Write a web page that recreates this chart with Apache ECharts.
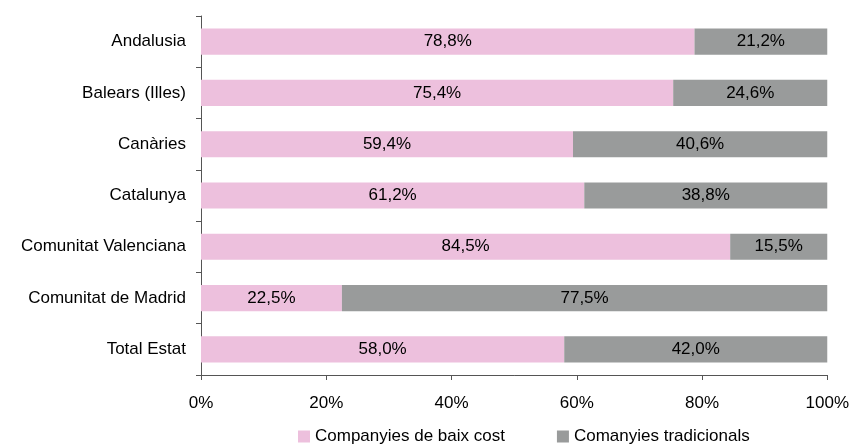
<!DOCTYPE html>
<html>
<head>
<meta charset="utf-8">
<script src="https://cdn.jsdelivr.net/npm/echarts@6/dist/echarts.min.js"></script>
<style>
  html, body { margin: 0; padding: 0; background: #fff; }
  #main { width: 852px; height: 448px; }
</style>
</head>
<body>
<div id="main"></div>
<script>
// dades
var regions = ['Andalusia', 'Balears (Illes)', 'Canàries', 'Catalunya', 'Comunitat Valenciana', 'Comunitat de Madrid', 'Total Estat'];
var baixCost = [78.8, 75.4, 59.4, 61.2, 84.5, 22.5, 58.0];
var tradicionals = [21.2, 24.6, 40.6, 38.8, 15.5, 77.5, 42.0];
var seriesNames = ['Companyies de baix cost', 'Comanyies tradicionals'];

var font = 'Liberation Sans, Arial, sans-serif';

// format amb coma decimal
function pct(v) {
    return v.toFixed(1).replace('.', ',') + '%';
}

var chart = echarts.init(document.getElementById('main'));

var option = {
    animation: false,
    textStyle: {fontFamily: font},
    grid: {left: 201, right: 24, top: 16, bottom: 73, containLabel: false},
    legend: {
        top: 428,
        left: 298,
        padding: 0,
        itemWidth: 12,
        itemHeight: 12,
        itemGap: 52,
        icon: 'rect',
        textStyle: {fontSize: 17, color: '#000', fontFamily: font},
        data: seriesNames
    },
    xAxis: {
        type: 'value',
        min: 0,
        max: 100,
        interval: 20,
        axisLine: {show: true, lineStyle: {color: '#555', width: 1}},
        axisTick: {show: true, length: 5, lineStyle: {color: '#555'}},
        splitLine: {show: false},
        axisLabel: {
            formatter: function (v) { return v + '%'; },
            fontSize: 17, color: '#000', margin: 20
        }
    },
    yAxis: {
        type: 'category',
        inverse: true,
        data: regions,
        axisLine: {show: true, lineStyle: {color: '#555', width: 1}},
        axisTick: {show: true, length: 5, lineStyle: {color: '#555'}},
        axisLabel: {fontSize: 17, color: '#000', margin: 15}
    },
    series: [
        {
            name: seriesNames[0],
            type: 'bar',
            stack: 'total',
            barWidth: '51%',
            itemStyle: {color: '#EDC0DD'},
            label: {
                show: true, position: 'inside', fontSize: 17, color: '#000',
                formatter: function (p) { return pct(p.value); }
            },
            data: baixCost
        },
        {
            name: seriesNames[1],
            type: 'bar',
            stack: 'total',
            barWidth: '51%',
            itemStyle: {color: '#999B9B'},
            label: {
                show: true, position: 'inside', fontSize: 17, color: '#000',
                formatter: function (p) { return pct(p.value); }
            },
            data: tradicionals
        }
    ]
};

chart.setOption(option);
</script>
</body>
</html>
